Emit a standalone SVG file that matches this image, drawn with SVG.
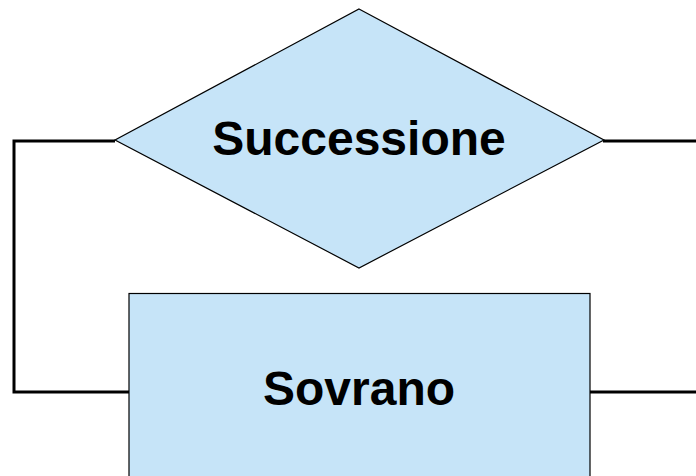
<svg xmlns="http://www.w3.org/2000/svg" width="696" height="476" viewBox="0 0 696 476">
<style>
.shape{fill:#c6e4f8;stroke:#000;stroke-width:1.2}
.conn{fill:none;stroke:#000;stroke-width:3}
.lbl{font-family:"Liberation Sans",Arial,sans-serif;font-weight:bold;font-size:48px;fill:#000;text-anchor:middle}
</style>
<rect width="696" height="476" fill="#fff"/>
<g id="connectors">
<polyline class="conn" points="115,141 14,141 14,392 129,392"/>
<line class="conn" x1="603" y1="141" x2="696" y2="141"/>
<line class="conn" x1="590" y1="392" x2="696" y2="392"/>
</g>
<g id="successione">
<polygon class="shape" points="359,9 604,140 359,268 115,140"/>
<text class="lbl" x="359" y="155">Successione</text>
</g>
<g id="sovrano">
<rect class="shape" x="129" y="293.5" width="461" height="190"/>
<text class="lbl" x="359" y="405">Sovrano</text>
</g>
</svg>
